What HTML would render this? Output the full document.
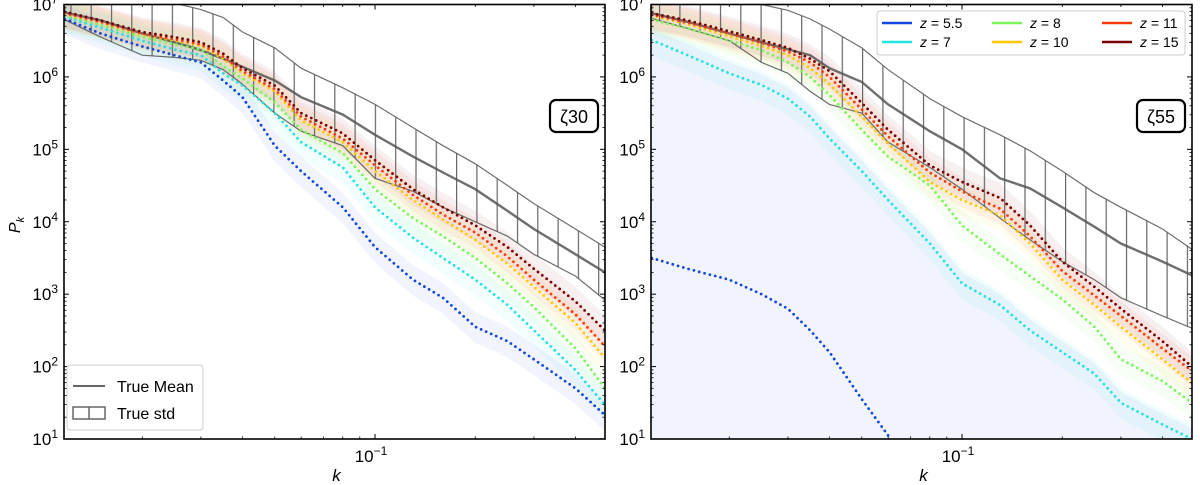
<!DOCTYPE html>
<html><head><meta charset="utf-8">
<style>
html,body{margin:0;padding:0;background:#fff;width:1200px;height:485px;overflow:hidden;font-family:"Liberation Sans","DejaVu Sans",sans-serif;}
svg{display:block;}
svg text{font-family:"Liberation Sans","DejaVu Sans",sans-serif;}
</style></head>
<body>
<svg id="chart" width="1200" height="485" xmlns="http://www.w3.org/2000/svg"></svg>
<script>
const kValues=[0.0117,0.015,0.02,0.025,0.03,0.035,0.04,0.05,0.06,0.08,0.1,0.13,0.16,0.2,0.25,0.3,0.4,0.49];
const redshiftLabels=["5.5","7","8","10","11","15"];
const seriesColors=["#1446e0","#22e2e2","#7af55a","#ffc800","#ff3a0a","#7a0000"];
// log10 P values, left panel (zeta30)
const leftMean=[6.89,6.78,6.6,6.48,6.37,6.25,6.14,5.95,5.72,5.48,5.2,4.9,4.68,4.45,4.15,3.9,3.55,3.3];
const leftUpper=[7.3,7.2,7.1,7.02,6.93,6.82,6.62,6.4,6.12,5.85,5.62,5.3,5.05,4.8,4.5,4.25,3.9,3.65];
const leftLower=[6.79,6.55,6.3,6.27,6.23,6.1,5.9,5.5,5.25,5.05,4.6,4.42,4.2,4.0,3.8,3.55,3.25,2.92];
const leftZ5=[6.8,6.6,6.42,6.3,6.2,5.95,5.72,5.05,4.7,4.2,3.65,3.2,2.95,2.55,2.35,2.1,1.7,1.33];
const leftZ7=[6.83,6.68,6.5,6.38,6.3,6.05,5.88,5.5,5.1,4.75,4.2,3.78,3.5,3.2,2.85,2.5,1.95,1.47];
const leftZ8=[6.85,6.72,6.55,6.45,6.38,6.15,5.98,5.65,5.27,4.95,4.45,4.05,3.8,3.5,3.15,2.82,2.25,1.7];
const leftZ10=[6.87,6.75,6.58,6.5,6.43,6.25,6.05,5.8,5.4,5.1,4.7,4.3,4.03,3.75,3.42,3.1,2.6,2.12];
const leftZ11=[6.88,6.76,6.6,6.52,6.45,6.28,6.08,5.83,5.45,5.15,4.78,4.37,4.1,3.85,3.52,3.2,2.72,2.28];
const leftZ15=[6.9,6.78,6.62,6.55,6.48,6.32,6.12,5.88,5.5,5.22,4.85,4.45,4.2,3.95,3.65,3.35,2.9,2.5];
// right panel (zeta55)
const rightMean=[6.88,6.76,6.6,6.48,6.38,6.3,6.12,5.93,5.62,5.25,5.0,4.6,4.46,4.2,3.93,3.7,3.45,3.26];
const rightUpper=[7.3,7.2,7.1,7.0,6.92,6.8,6.66,6.4,6.1,5.7,5.45,5.2,4.98,4.7,4.4,4.2,3.9,3.62];
const rightLower=[6.81,6.67,6.5,6.2,6.05,5.8,5.62,5.5,5.1,4.75,4.45,4.05,3.75,3.45,3.2,2.95,2.7,2.53];
const rightZ5=[3.5,3.35,3.2,3.0,2.8,2.5,2.2,1.55,1.05,0.3,-0.2,-0.8,-1.2,-1.6,-2,-2.3,-2.8,-3.1];
const rightZ7=[6.51,6.3,6.05,5.89,5.7,5.45,5.15,4.7,4.3,3.7,3.15,2.85,2.5,2.2,1.9,1.5,1.2,1.0];
const rightZ8=[6.79,6.67,6.5,6.37,6.2,6.0,5.75,5.27,4.9,4.5,3.95,3.55,3.25,2.93,2.55,2.1,1.8,1.5];
const rightZ10=[6.85,6.73,6.56,6.43,6.3,6.12,5.9,5.45,5.08,4.55,4.3,4.09,3.7,3.2,2.85,2.55,2.1,1.77];
const rightZ11=[6.86,6.75,6.6,6.47,6.35,6.2,6.0,5.55,5.18,4.68,4.42,4.18,3.8,3.32,2.98,2.7,2.25,1.94];
const rightZ15=[6.88,6.78,6.63,6.51,6.4,6.25,6.08,5.64,5.27,4.78,4.55,4.33,3.95,3.45,3.1,2.8,2.35,2.0];
const yTickExps=[1,2,3,4,5,6,7];

const NS="http://www.w3.org/2000/svg";
const svg=document.getElementById('chart');
function mk(tag,attrs,parent){const e=document.createElementNS(NS,tag);for(const a in attrs)e.setAttribute(a,attrs[a]);(parent||svg).appendChild(e);return e;}
const TOP=4.5,BOT=439,LOGKMIN=-1.934,PXDEC=333,LOGKMAX=LOGKMIN+(541/PXDEC);
const defs=mk('defs',{});
const hatch=mk('pattern',{id:'hatch',patternUnits:'userSpaceOnUse',width:20.3,height:10},defs);
mk('line',{x1:10,y1:0,x2:10,y2:10,stroke:'#666',"stroke-width":1.2},hatch);

function panel(x0,name,mean,upper,lower,zs,label,blueBig){
  const W=541;
  const xs=k=>x0+(Math.log10(k)-LOGKMIN)*PXDEC;
  const ys=v=>TOP+(7-v)*(BOT-TOP)/6;
  const g=mk('g',{});
  
  
  const cp=mk('clipPath',{id:'clip-'+name},defs);
  mk('rect',{x:x0,y:TOP,width:W,height:BOT-TOP},cp);
  const pg=mk('g',{"clip-path":'url(#clip-'+name+')'},g);
  const line=arr=>arr.map((v,i)=>(i?'L':'M')+xs(kValues[i]).toFixed(1)+','+ys(v).toFixed(1)).join('');
  const band=(up,lo)=>line(up)+lo.slice().reverse().map((v,i)=>'L'+xs(kValues[lo.length-1-i]).toFixed(1)+','+ys(v).toFixed(1)).join('')+'Z';
  zs.forEach((arr,si)=>{
    let up=arr.map(v=>v+0.2),lo=arr.map(v=>v-0.22),op=0.06;
    if(si===0&&blueBig){up=zs[1].map(v=>v+0.15);lo=arr.map(()=>-5);op=0.06;}
    const b=mk('path',{d:band(up,lo),fill:seriesColors[si],"fill-opacity":op,stroke:'none'},pg);
    
    
  });
  const gb=mk('path',{d:band(upper,lower),fill:'url(#hatch)',stroke:'#555',"stroke-width":1.2,"stroke-opacity":0.85},pg);
  
  
  const ml=mk('path',{d:line(mean),fill:'none',stroke:'#555',"stroke-width":2.4,"stroke-opacity":0.85},pg);
  
  
  zs.forEach((arr,si)=>{
    const l=mk('path',{d:line(arr),fill:'none',stroke:seriesColors[si],"stroke-width":2.8,"stroke-dasharray":'0 5.5',"stroke-linecap":'round'},pg);
    
    
  });
  const fr=mk('rect',{x:x0,y:TOP,width:W,height:BOT-TOP,fill:'none',stroke:'#000',"stroke-width":1.6},g);
  
  
  for(let e=1;e<=7;e++){
    const y=ys(e);
    mk('line',{x1:x0,y1:y,x2:x0+5,y2:y,stroke:'#000',"stroke-width":1},g);
    mk('line',{x1:x0+W,y1:y,x2:x0+W-5,y2:y,stroke:'#000',"stroke-width":1},g);
    if(e<7)for(let m=2;m<10;m++){const yy=ys(e+Math.log10(m));
      mk('line',{x1:x0,y1:yy,x2:x0+2.5,y2:yy,stroke:'#000',"stroke-width":0.8},g);
      mk('line',{x1:x0+W,y1:yy,x2:x0+W-2.5,y2:yy,stroke:'#000',"stroke-width":0.8},g);}
  }
  yTickExps.forEach(e=>{
    const t=mk('text',{x:x0-6,y:ys(e)+6,"text-anchor":'end',"font-size":17},g);
    t.innerHTML='10<tspan dy="-7" font-size="12">'+e+'</tspan>';
    
    
  });
  for(let d=-2;d<=-1;d++)for(let m=1;m<10;m++){
    const lk=d+Math.log10(m); if(lk<LOGKMIN||lk>LOGKMAX)continue;
    const x=xs(Math.pow(10,lk)),len=m===1?5:2.5;
    mk('line',{x1:x,y1:BOT,x2:x,y2:BOT-len,stroke:'#000',"stroke-width":m===1?1:0.8},g);
    mk('line',{x1:x,y1:TOP,x2:x,y2:TOP+len,stroke:'#000',"stroke-width":m===1?1:0.8},g);
  }
  const xt=mk('text',{x:xs(0.1)-4,y:BOT+23,"text-anchor":'middle',"font-size":17},g);
  xt.innerHTML='10<tspan dy="-7" font-size="12">−1</tspan>';
  
  
  const xl=mk('text',{x:x0+W/2+2,y:BOT+42,"text-anchor":'middle',"font-size":17,"font-style":'italic'},g);
  xl.textContent='k';
  
  
  const zb=mk('g',{},g);
  
  
  mk('rect',{x:x0+W-55,y:100,width:48,height:32,rx:6,fill:'#fff',stroke:'#000',"stroke-width":2.2},zb);
  const zt=mk('text',{x:x0+W-31,y:123,"text-anchor":'middle',"font-size":18},zb);
  zt.textContent=label;
}
panel(64,'left',leftMean,leftUpper,leftLower,[leftZ5,leftZ7,leftZ8,leftZ10,leftZ11,leftZ15],'ζ30',false);
panel(651,'right',rightMean,rightUpper,rightLower,[rightZ5,rightZ7,rightZ8,rightZ10,rightZ11,rightZ15],'ζ55',true);

const yt=mk('text',{x:20,y:225,"text-anchor":'middle',"font-size":16,"font-style":'italic',transform:'rotate(-90 20 225)'});
yt.innerHTML='P<tspan dy="4" font-size="11">k</tspan>';



const lg=mk('g',{});


mk('rect',{x:67,y:365,width:136,height:65,rx:3,fill:'#fff',"fill-opacity":0.85,stroke:'#ccc'},lg);
mk('line',{x1:73,y1:386,x2:105,y2:386,stroke:'#666',"stroke-width":2},lg);
mk('text',{x:117,y:392,"font-size":16},lg).textContent='True Mean';
mk('rect',{x:73,y:407,width:32,height:12,fill:'none',stroke:'#666',"stroke-width":1.5},lg);
mk('line',{x1:89,y1:407,x2:89,y2:419,stroke:'#666',"stroke-width":1.5},lg);
mk('text',{x:117,y:419,"font-size":16},lg).textContent='True std';

const rg=mk('g',{});


mk('rect',{x:877,y:11,width:308,height:44,rx:3,fill:'#fff',"fill-opacity":0.9,stroke:'#ccc'},rg);
redshiftLabels.forEach((z,i)=>{
  const col=Math.floor(i/2),row=i%2;
  const lx=882+col*110,ly=23+row*19;
  const e=mk('g',{},rg);
  
  
  mk('line',{x1:lx,y1:ly,x2:lx+30,y2:ly,stroke:seriesColors[i],"stroke-width":2.5},e);
  const t=mk('text',{x:lx+38,y:ly+5,"font-size":14},e);
  t.innerHTML='<tspan font-style="italic">z</tspan> = '+z;
});
</script>
</body></html>
